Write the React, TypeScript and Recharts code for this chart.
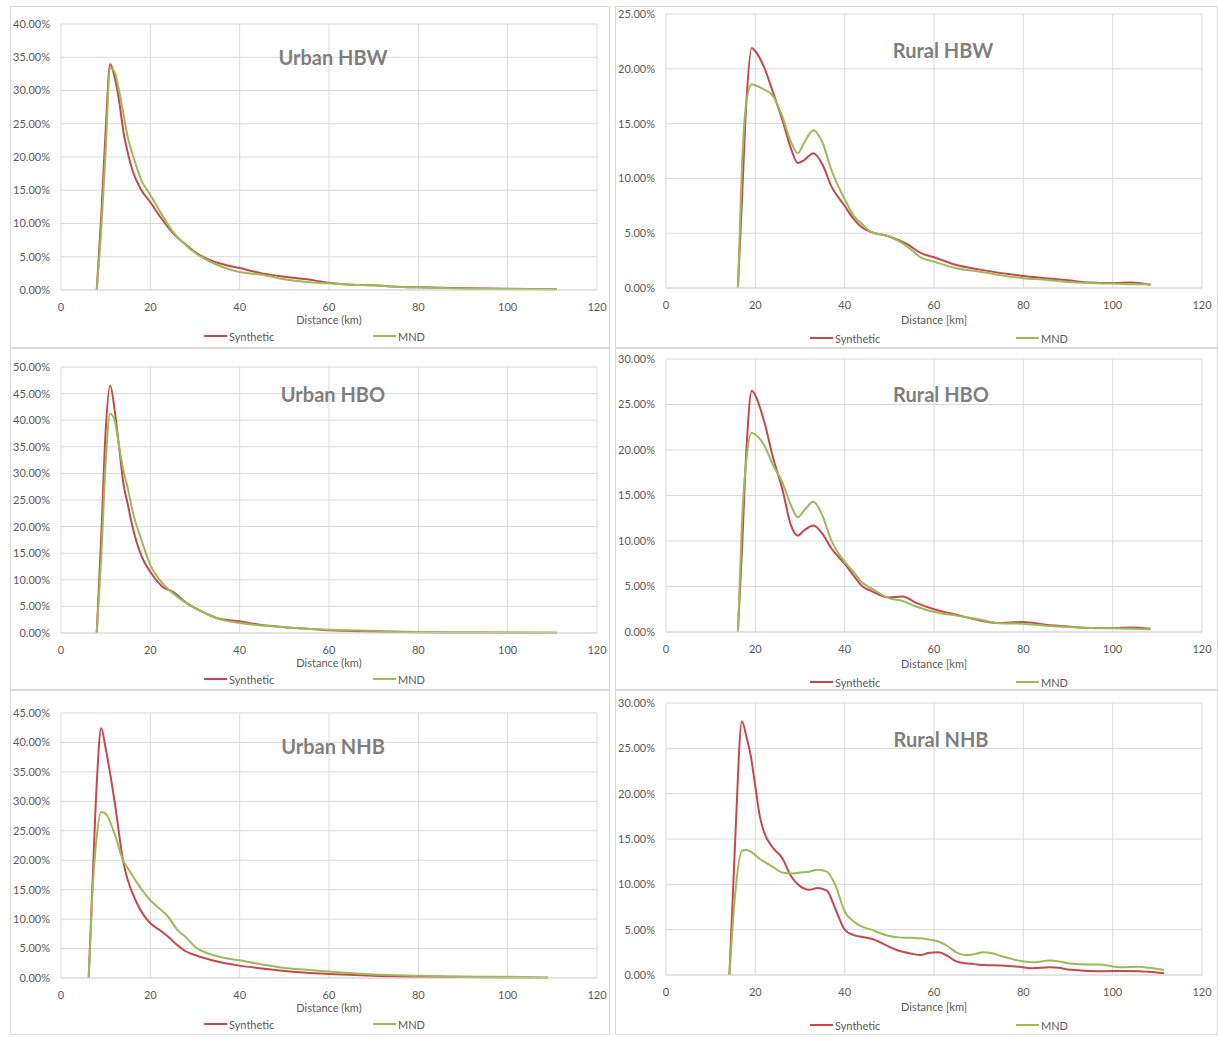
import React from "react";
import { LineChart, Line, XAxis, YAxis, CartesianGrid, Legend } from "recharts";

// distance (km) and share of trips (%)
const distUrbanHBW = [8, 9, 10, 11, 12, 13, 14, 15, 16, 18, 20, 22, 25, 28, 30, 33, 36, 40, 45, 50, 55, 60, 65, 70, 75, 80, 90, 100, 111];
const synUrbanHBW = [0, 11, 24, 34, 32, 28.5, 23.7, 20.5, 18, 15, 13.2, 11.2, 8.6, 6.8, 5.7, 4.6, 3.9, 3.3, 2.5, 2.0, 1.6, 1.1, 0.8, 0.7, 0.5, 0.4, 0.25, 0.2, 0.1];
const mndUrbanHBW = [0, 9, 21, 33.4, 32.8, 30, 26.4, 22.8, 20.5, 16.5, 14.3, 12, 8.8, 6.7, 5.6, 4.4, 3.5, 2.7, 2.3, 1.6, 1.2, 1.0, 0.8, 0.7, 0.5, 0.4, 0.2, 0.15, 0.1];

const distRuralHBW = [16.1, 17, 18, 19.2, 20, 22, 24, 26, 28, 29.5, 31, 33, 35, 37, 40, 42, 44, 46, 50, 54, 57, 60, 65, 70, 80, 85, 90, 95, 100, 104, 108.5];
const synRuralHBW = [0, 8, 17, 21.9, 21.6, 20.1, 17.8, 15.4, 12.7, 11.4, 11.7, 12.3, 11.3, 9.3, 7.5, 6.3, 5.5, 5.1, 4.7, 4.0, 3.2, 2.8, 2.1, 1.7, 1.1, 0.9, 0.7, 0.5, 0.45, 0.5, 0.3];
const mndRuralHBW = [0, 11, 17, 18.6, 18.5, 18.1, 17.5, 15.7, 13.3, 12.3, 13.3, 14.4, 13.3, 10.8, 8.1, 6.6, 5.8, 5.1, 4.7, 3.8, 2.8, 2.4, 1.8, 1.5, 0.9, 0.75, 0.55, 0.45, 0.4, 0.35, 0.35];

const distUrbanHBO = [8, 9, 10, 11, 12, 13, 14, 15, 16, 18, 20, 23, 25, 28, 30, 35, 40, 45, 50, 55, 60, 70, 80, 90, 100, 111];
const synUrbanHBO = [0, 18, 38, 46.5, 42, 35, 28, 24, 20, 14.5, 11.5, 8.5, 7.8, 5.7, 4.7, 2.8, 2.2, 1.5, 1.1, 0.8, 0.5, 0.3, 0.15, 0.1, 0.05, 0.03];
const mndUrbanHBO = [0, 14, 32, 41.2, 40, 35, 30.5, 27, 23, 17.5, 12.8, 9.1, 7.5, 5.6, 4.7, 2.7, 1.9, 1.4, 1.1, 0.8, 0.6, 0.4, 0.2, 0.1, 0.1, 0.05];

const distRuralHBO = [16.1, 17, 18, 19.2, 20, 22, 24, 26, 28, 29.5, 31, 33, 35, 37, 40, 42, 44, 46, 50, 53, 56, 60, 65, 70, 74, 80, 85, 90, 95, 100, 104, 108.5];
const synRuralHBO = [0, 9, 20, 26.5, 26, 23.1, 19.1, 15.8, 11.7, 10.6, 11.2, 11.7, 10.8, 9.2, 7.5, 6.2, 5.0, 4.5, 3.8, 3.9, 3.2, 2.5, 1.9, 1.3, 1.0, 1.1, 0.8, 0.6, 0.45, 0.45, 0.5, 0.35];
const mndRuralHBO = [0, 12, 19, 21.9, 21.7, 20.5, 18.3, 16.5, 13.9, 12.6, 13.4, 14.3, 12.8, 10.1, 7.7, 6.6, 5.4, 4.8, 3.7, 3.4, 2.8, 2.2, 1.8, 1.4, 1.0, 0.9, 0.7, 0.55, 0.45, 0.4, 0.35, 0.3];

const distUrbanNHB = [6.2, 7, 8, 9, 10, 12, 14, 15, 17, 20, 22, 24, 26, 28, 30, 35, 40, 45, 50, 55, 60, 70, 80, 90, 100, 109];
const synUrbanNHB = [0, 15, 33, 42.4, 39, 30, 19.5, 16.5, 12.7, 9.3, 8.2, 7.0, 5.6, 4.5, 3.9, 2.8, 2.1, 1.6, 1.2, 0.9, 0.7, 0.4, 0.2, 0.15, 0.1, 0.05];
const mndUrbanNHB = [0, 14, 24, 28.2, 27.9, 24.5, 19.8, 18.6, 16.2, 13.2, 11.8, 10.4, 8.2, 6.9, 5.3, 3.7, 3.0, 2.3, 1.7, 1.4, 1.1, 0.6, 0.4, 0.25, 0.2, 0.1];

const distRuralNHB = [14.2, 15.5, 17, 18, 19, 20, 21, 22, 24, 26, 28, 30, 32, 34, 36, 38, 40, 42, 44, 46, 48, 50, 52, 55, 57, 59, 61, 63, 65, 67, 69, 71, 73, 75, 80, 82, 86, 88, 90, 95, 97, 100, 102, 106, 108, 111.5];
const synRuralNHB = [0, 15, 28, 26.3, 24.1, 20.8, 17.5, 15.7, 14.0, 12.9, 10.9, 9.8, 9.4, 9.6, 9.3, 7.2, 5.0, 4.4, 4.2, 4.0, 3.6, 3.1, 2.7, 2.35, 2.2, 2.45, 2.5, 2.1, 1.5, 1.3, 1.2, 1.1, 1.08, 1.05, 0.85, 0.75, 0.85, 0.8, 0.6, 0.45, 0.4, 0.45, 0.45, 0.42, 0.35, 0.2];
const mndRuralNHB = [0, 9, 13.7, 13.8, 13.6, 13.2, 12.8, 12.5, 11.9, 11.3, 11.2, 11.3, 11.4, 11.6, 11.4, 9.8, 7.0, 5.9, 5.3, 5.0, 4.6, 4.3, 4.15, 4.1, 4.05, 3.9, 3.7, 3.2, 2.5, 2.2, 2.3, 2.5, 2.4, 2.1, 1.5, 1.4, 1.6, 1.5, 1.3, 1.15, 1.15, 0.95, 0.85, 0.9, 0.8, 0.55];

const xTicks = [0, 20, 40, 60, 80, 100, 120];
const yTicks40 = [0, 5, 10, 15, 20, 25, 30, 35, 40];
const yTicks25 = [0, 5, 10, 15, 20, 25];
const yTicks50 = [0, 5, 10, 15, 20, 25, 30, 35, 40, 45, 50];
const yTicks30 = [0, 5, 10, 15, 20, 25, 30];
const yTicks45 = [0, 5, 10, 15, 20, 25, 30, 35, 40, 45];
const seriesNames = ["Synthetic", "MND"];

const RED = "#c8474c";
const GREEN = "#9bbb59";
const TEXT = "#595959";
const GRID = "#d9d9d9";
const FONT = "Lato, 'Liberation Sans', sans-serif";

type PanelCfg = {
    title: string;
    xLabel: string;
    dist: number[];
    syn: number[];
    mnd: number[];
    yTicks: number[];
    col: "L" | "R";
    top: number;
    height: number;
    mTop: number;
    mBottom: number;
    titleX: number;
    titleY: number;
};

const panels: PanelCfg[] = [
    { title: "Urban HBW", xLabel: "Distance (km)", dist: distUrbanHBW, syn: synUrbanHBW, mnd: mndUrbanHBW, yTicks: yTicks40, col: "L", top: 6, height: 342, mTop: 18, mBottom: 4, titleX: 333, titleY: 57 },
    { title: "Rural HBW", xLabel: "Distance [km]", dist: distRuralHBW, syn: synRuralHBW, mnd: mndRuralHBW, yTicks: yTicks25, col: "R", top: 6, height: 342, mTop: 8, mBottom: 2, titleX: 943, titleY: 50 },
    { title: "Urban HBO", xLabel: "Distance (km)", dist: distUrbanHBO, syn: synUrbanHBO, mnd: mndUrbanHBO, yTicks: yTicks50, col: "L", top: 348, height: 342, mTop: 19, mBottom: 3, titleX: 333, titleY: 394 },
    { title: "Rural HBO", xLabel: "Distance [km]", dist: distRuralHBO, syn: synRuralHBO, mnd: mndRuralHBO, yTicks: yTicks30, col: "R", top: 348, height: 342, mTop: 11, mBottom: 0, titleX: 941, titleY: 394 },
    { title: "Urban NHB", xLabel: "Distance (km)", dist: distUrbanNHB, syn: synUrbanNHB, mnd: mndUrbanNHB, yTicks: yTicks45, col: "L", top: 690, height: 345, mTop: 23, mBottom: 3, titleX: 333, titleY: 746 },
    { title: "Rural NHB", xLabel: "Distance [km]", dist: distRuralNHB, syn: synRuralNHB, mnd: mndRuralNHB, yTicks: yTicks30, col: "R", top: 690, height: 345, mTop: 13, mBottom: 2, titleX: 941, titleY: 739 },
];

function LegendRow({ payload, firstX, secondX }: { payload?: any[]; firstX: number; secondX: number }) {
    // keep the series order (Synthetic, then MND) regardless of legend sorting
    const items = seriesNames
        .map((n) => (payload ?? []).find((it) => it.value === n))
        .filter(Boolean) as any[];
    return (
        <div style={{ position: "relative", height: 16, fontSize: 11, color: TEXT, fontFamily: FONT }}>
            {items.map((it, i) => (
                <span
                    key={it.value}
                    style={{ position: "absolute", left: i === 0 ? firstX : secondX, top: 0, height: 16, display: "flex", alignItems: "center" }}
                >
                    <span style={{ display: "inline-block", width: 23, height: 2, background: it.color, marginRight: 2 }} />
                    {it.value}
                </span>
            ))}
        </div>
    );
}

function DistPanel({ p }: { p: PanelCfg }) {
    const data = p.dist.map((d, i) => ({ d, syn: p.syn[i], mnd: p.mnd[i] }));
    const isRight = p.col === "R";
    const left = isRight ? 615 : 10;
    const width = isRight ? 603 : 600;
    const yMax = p.yTicks[p.yTicks.length - 1];

    return (
        <>
            <div style={{ position: "absolute", left, top: p.top, width, height: p.height, border: `1px solid ${GRID}`, boxSizing: "border-box" }} />
            <div style={{ position: "absolute", left, top: p.top }}>
                <LineChart
                    width={width}
                    height={p.height}
                    data={data}
                    margin={{ top: p.mTop, right: width - 587, left: 5, bottom: p.mBottom }}
                >
                    <CartesianGrid stroke={GRID} vertical horizontal />
                    <XAxis
                        dataKey="d"
                        type="number"
                        domain={[0, 120]}
                        ticks={xTicks}
                        interval={0}
                        height={isRight ? 42 : 38}
                        tickLine={false}
                        tickMargin={7}
                        axisLine={{ stroke: GRID }}
                        tick={{ fontSize: 11, fill: TEXT }}
                        label={{ value: p.xLabel, position: "insideBottom", offset: isRight ? 6 : 4, fontSize: 11, fill: TEXT }}
                    />
                    <YAxis
                        type="number"
                        domain={[0, yMax]}
                        ticks={p.yTicks}
                        interval={0}
                        width={46}
                        tickLine={false}
                        axisLine={false}
                        tickMargin={5}
                        tick={{ fontSize: 11, fill: TEXT }}
                        tickFormatter={(v: number) => `${v.toFixed(2)}%`}
                    />
                    <Legend
                        verticalAlign="bottom"
                        content={(props: any) => (
                            <LegendRow payload={props.payload} firstX={isRight ? 190 : 189} secondX={isRight ? 396 : 358} />
                        )}
                    />
                    <Line name="Synthetic" dataKey="syn" type="monotone" stroke={RED} strokeWidth={2} dot={false} isAnimationActive={false} />
                    <Line name="MND" dataKey="mnd" type="monotone" stroke={GREEN} strokeWidth={2} dot={false} isAnimationActive={false} />
                </LineChart>
            </div>
            <div
                style={{
                    position: "absolute",
                    left: p.titleX,
                    top: p.titleY,
                    transform: "translate(-50%, -50%)",
                    fontSize: 20,
                    fontWeight: 700,
                    color: "#7f7f7f",
                    whiteSpace: "nowrap",
                    fontFamily: FONT,
                }}
            >
                {p.title}
            </div>
        </>
    );
}

export default function App() {
    return (
        <div style={{ position: "absolute", left: 0, top: 0, width: 1218, height: 1037, background: "#fff", fontFamily: FONT, overflow: "hidden" }}>
            {panels.map((p) => (
                <DistPanel key={p.title} p={p} />
            ))}
        </div>
    );
}
